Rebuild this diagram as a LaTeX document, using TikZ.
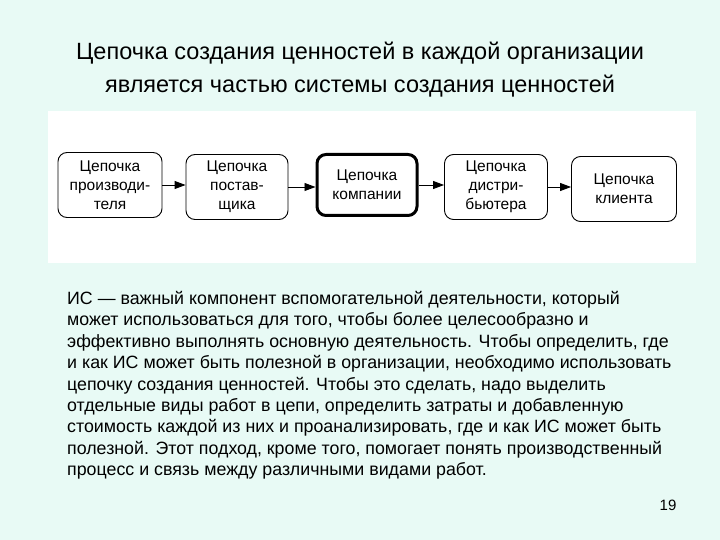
\documentclass[tikz,border=0pt]{standalone}
\usepackage{fontspec}
\setmainfont{Liberation Sans}
\usetikzlibrary{arrows.meta}
\definecolor{bg}{RGB}{232,250,245}
\begin{document}
\begin{tikzpicture}[x=1pt,y=-1pt,
  box/.style={draw,rounded corners=9pt,line width=0.9pt,minimum width=104pt,minimum height=65pt,align=center,font=\fontsize{15.5}{19}\selectfont,inner sep=1pt},
  arr/.style={-{Triangle[length=11pt,width=8pt]},line width=0.9pt}]
\fill[bg] (0,0) rectangle (720,540);
\useasboundingbox (0,0) rectangle (720,540);
\node[font=\fontsize{23.5}{33}\selectfont,align=center] (title) at (360,70) {Цепочка создания ценностей в каждой организации\\является частью системы создания ценностей};
\fill[white] (48,111) rectangle (696,263);
\node[box] (b1) at (110,185) {Цепочка\\производи-\\теля};
\node[box,minimum width=102pt] (b2) at (237,187) {Цепочка\\постав-\\щика};
\node[box,line width=3pt,minimum width=100pt,minimum height=61pt] (b3) at (367,185) {Цепочка\\компании};
\node[box,minimum width=103pt] (b4) at (496,187) {Цепочка\\дистри-\\бьютера};
\node[box,minimum width=105pt] (b5) at (624,189) {Цепочка\\клиента};
\draw[arr] (b1.east) -- (b2.west|-b1.east);
\draw[arr] (b2.east) -- (b3.west|-b2.east);
\draw[arr] (b3.east) -- (b4.west|-b3.east);
\draw[arr] (b4.east) -- (b5.west|-b4.east);
\node[anchor=north west,align=left,font=\fontsize{17.8}{21.4}\selectfont,inner sep=0pt] (body) at (67,291) {ИС — важный компонент вспомогательной деятельности, который\\
может использоваться для того, чтобы более целесообразно и\\
эффективно выполнять основную деятельность. Чтобы определить, где\\
и как ИС может быть полезной в организации, необходимо использовать\\
цепочку создания ценностей. Чтобы это сделать, надо выделить\\
отдельные виды работ в цепи, определить затраты и добавленную\\
стоимость каждой из них и проанализировать, где и как ИС может быть\\
полезной. Этот подход, кроме того, помогает понять производственный\\
процесс и связь между различными видами работ.};
\node[font=\fontsize{15}{18}\selectfont] (pg) at (668,505) {19};
\end{tikzpicture}
\end{document}
